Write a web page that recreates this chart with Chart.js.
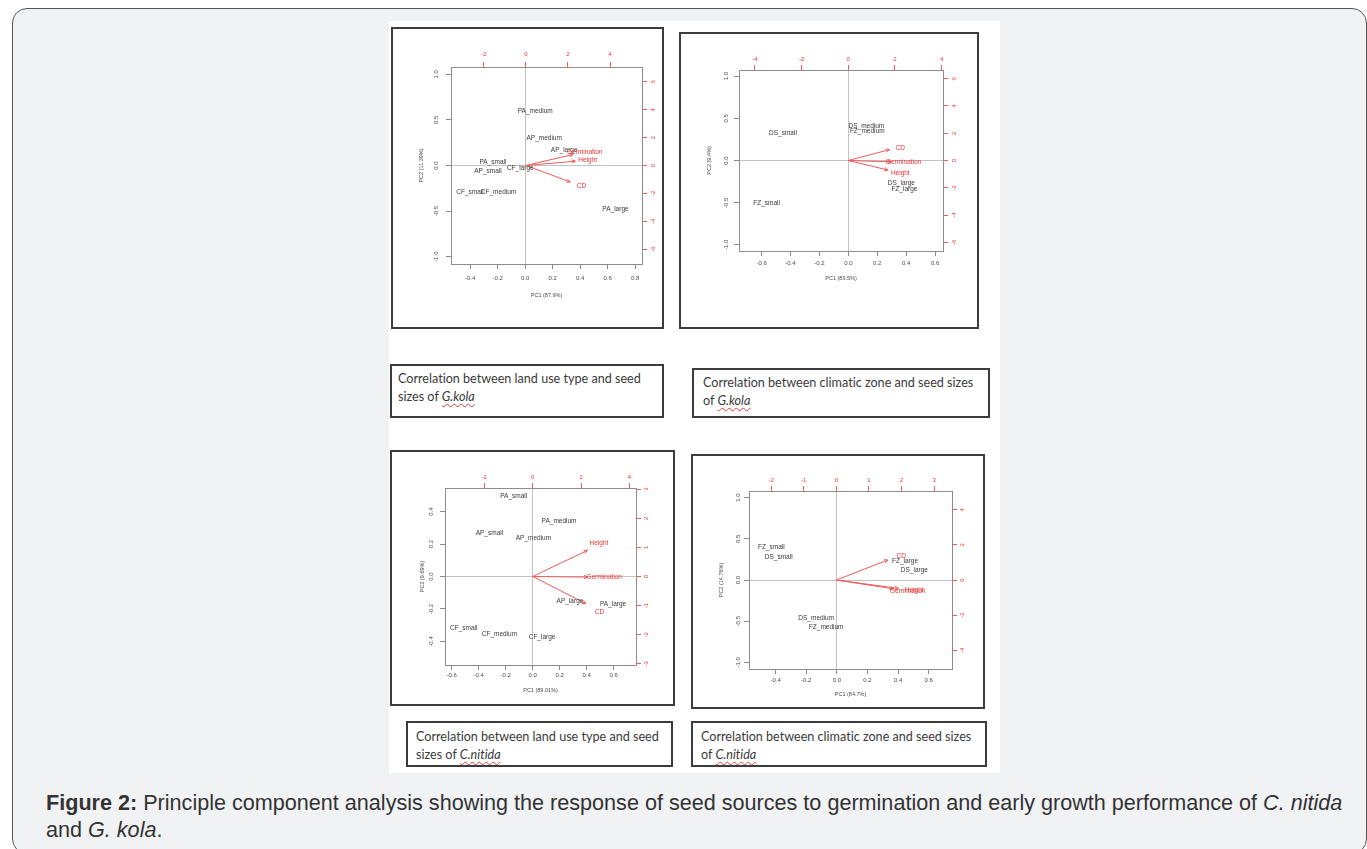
<!DOCTYPE html>
<html>
<head>
<meta charset="utf-8">
<title>Figure 2 - PCA biplots</title>
<script src="https://cdn.jsdelivr.net/npm/chart.js@4.4.1/dist/chart.umd.min.js"></script>
<style>
  html, body { margin: 0; padding: 0; background: #fff; }
  body { width: 1367px; height: 849px; position: relative; overflow: hidden; }
  .frame { position: absolute; left: 12px; top: 8px; width: 1355px; height: 846px; box-sizing: border-box;
           border: 1px solid #555; border-radius: 15px; background: #f1f2f4; }
  .sheet { position: absolute; left: 389px; top: 21px; width: 611px; height: 752px; background: #fff; }
  .panel { position: absolute; }
  .panel canvas { position: absolute; left: 0; top: 0; filter: blur(0.35px); }
  .panel::after { content: ''; position: absolute; inset: 0; border: 2px solid #3c3c3c; pointer-events: none; }
  .note { position: absolute; box-sizing: border-box; border: 2px solid #3c3c3c; background: #fff;
          font: 12.6px/18px Lato, 'Open Sans', sans-serif; color: #3a3a3a; white-space: nowrap;
          font-variant-ligatures: none; }
  .note i { text-decoration: underline wavy #e03a3a; text-decoration-thickness: 1px; text-underline-offset: 2px; }
  .figcap { position: absolute; left: 46px; top: 789px; width: 1310px; margin: 0;
            font: 21.6px/27px 'Liberation Sans', Arial, sans-serif; color: #333; }
</style>
</head>
<body>
<div class="frame"></div>
<div class="sheet"></div>

<div class="panel" style="left:391px;top:27px;width:273px;height:302px"><canvas id="c1" width="273" height="302"></canvas></div>
<div class="panel" style="left:679px;top:32px;width:300px;height:297px"><canvas id="c2" width="300" height="297"></canvas></div>
<div class="panel" style="left:390px;top:450px;width:285px;height:256px"><canvas id="c3" width="285" height="256"></canvas></div>
<div class="panel" style="left:691px;top:454px;width:294px;height:255px"><canvas id="c4" width="294" height="255"></canvas></div>

<div class="note" style="left:390px;top:364px;width:274px;height:54px;padding:4px 6px">Correlation between land use type and seed<br>sizes of <i>G.kola</i></div>
<div class="note" style="left:692px;top:368px;width:298px;height:50px;padding:4px 9px">Correlation between climatic zone and seed sizes<br>of <i>G.kola</i></div>
<div class="note" style="left:406px;top:721px;width:267px;height:46px;padding:5px 8px">Correlation between land use type and seed<br>sizes of <i>C.nitida</i></div>
<div class="note" style="left:691px;top:721px;width:296px;height:46px;padding:5px 8px">Correlation between climatic zone and seed sizes<br>of <i>C.nitida</i></div>

<p class="figcap"><b>Figure 2:</b> Principle component analysis showing the response of seed sources to germination and early growth performance of <i>C. nitida</i> and <i>G. kola</i>.</p>

<script>
// variables shown as arrows (same order in every panel)
const traitNames = ['Germination', 'Height', 'CD'];

// G. kola, land use type
const kolaLandNames = ['PA_medium', 'AP_medium', 'AP_large', 'PA_small', 'AP_small', 'CF_large', 'CF_small', 'CF_medium', 'PA_large'];
const kolaLandPC1 = [0.073, 0.138, 0.284, -0.235, -0.271, -0.036, -0.402, -0.194, 0.657];
const kolaLandPC2 = [0.600, 0.300, 0.164, 0.040, -0.062, -0.026, -0.290, -0.290, -0.480];
const kolaLandTipX = [2.24, 2.35, 2.11];
const kolaLandTipY = [0.79, 0.31, -1.18];
const kolaLandTextX = [2.80, 2.94, 2.64];
const kolaLandTextY = [0.99, 0.39, -1.48];
const kolaLandXTicks = [-0.4, -0.2, 0, 0.2, 0.4, 0.6, 0.8];
const kolaLandYTicks = [-1, -0.5, 0, 0.5, 1];
const kolaLandTopTicks = [-2, 0, 2, 4];
const kolaLandRightTicks = [-6, -4, -2, 0, 2, 4, 6];

// G. kola, climatic zone
const kolaZoneNames = ['DS_medium', 'FZ_medium', 'DS_small', 'DS_large', 'FZ_large', 'FZ_small'];
const kolaZonePC1 = [0.125, 0.131, -0.452, 0.367, 0.388, -0.565];
const kolaZonePC2 = [0.410, 0.344, 0.320, -0.270, -0.340, -0.510];
const kolaZoneTipX = [1.85, 1.70, 1.77];
const kolaZoneTipY = [-0.10, -0.70, 0.80];
const kolaZoneTextX = [2.37, 2.23, 2.23];
const kolaZoneTextY = [-0.15, -0.92, 0.91];
const kolaZoneXTicks = [-0.6, -0.4, -0.2, 0, 0.2, 0.4, 0.6];
const kolaZoneYTicks = [-1, -0.5, 0, 0.5, 1];
const kolaZoneTopTicks = [-4, -2, 0, 2, 4];
const kolaZoneRightTicks = [-6, -4, -2, 0, 2, 4, 6];

// C. nitida, land use type
const nitidaLandNames = ['PA_small', 'PA_medium', 'AP_small', 'AP_medium', 'AP_large', 'PA_large', 'CF_small', 'CF_medium', 'CF_large'];
const nitidaLandPC1 = [-0.141, 0.195, -0.321, 0.005, 0.276, 0.595, -0.511, -0.247, 0.069];
const nitidaLandPC2 = [0.494, 0.343, 0.265, 0.234, -0.150, -0.170, -0.316, -0.355, -0.371];
const nitidaLandTipX = [2.27, 2.27, 2.20];
const nitidaLandTipY = [-0.02, 0.90, -0.93];
const nitidaLandTextX = [2.96, 2.74, 2.76];
const nitidaLandTextY = [-0.04, 1.13, -1.21];
const nitidaLandXTicks = [-0.6, -0.4, -0.2, 0, 0.2, 0.4, 0.6];
const nitidaLandYTicks = [-0.4, -0.2, 0, 0.2, 0.4];
const nitidaLandTopTicks = [-2, 0, 2, 4];
const nitidaLandRightTicks = [-3, -2, -1, 0, 1, 2, 3];

// C. nitida, climatic zone
const nitidaZoneNames = ['FZ_small', 'DS_small', 'FZ_large', 'DS_large', 'DS_medium', 'FZ_medium'];
const nitidaZonePC1 = [-0.428, -0.380, 0.445, 0.506, -0.135, -0.070];
const nitidaZonePC2 = [0.394, 0.272, 0.227, 0.122, -0.468, -0.570];
const nitidaZoneTipX = [1.75, 1.91, 1.58];
const nitidaZoneTipY = [-0.50, -0.48, 1.14];
const nitidaZoneTextX = [2.19, 2.39, 1.99];
const nitidaZoneTextY = [-0.63, -0.59, 1.37];
const nitidaZoneXTicks = [-0.4, -0.2, 0, 0.2, 0.4, 0.6];
const nitidaZoneYTicks = [-1, -0.5, 0, 0.5, 1];
const nitidaZoneTopTicks = [-2, -1, 0, 1, 2, 3];
const nitidaZoneRightTicks = [-4, -2, 0, 2, 4];

const FONT = "'Liberation Sans', Arial, sans-serif";
const RED = '#f25a5a';
const RED_TEXT = '#ee3333';
const INK = '#383838';
const TICK_INK = '#4a4a4a';
const FRAME = '#8c8c8c';
const ZERO = '#c2c2c2';

// draws sample / variable names and arrow heads on top of the datasets
const tagPlugin = {
  id: 'tags',
  afterDatasetsDraw(chart) {
    const ctx = chart.ctx;
    ctx.save();
    chart.data.datasets.forEach((ds, i) => {
      const pts = chart.getDatasetMeta(i).data;
      if (ds.arrow) {
        const a = pts[0], b = pts[1];
        const ang = Math.atan2(b.y - a.y, b.x - a.x);
        const len = 4, spread = Math.PI / 7;
        ctx.strokeStyle = ds.borderColor;
        ctx.lineWidth = 1;
        ctx.beginPath();
        ctx.moveTo(b.x - len * Math.cos(ang - spread), b.y - len * Math.sin(ang - spread));
        ctx.lineTo(b.x, b.y);
        ctx.lineTo(b.x - len * Math.cos(ang + spread), b.y - len * Math.sin(ang + spread));
        ctx.stroke();
      }
      if (ds.tags) {
        ctx.font = '6.5px ' + FONT;
        ctx.fillStyle = ds.tagColor;
        ctx.textAlign = 'center';
        ctx.textBaseline = 'middle';
        pts.forEach((p, j) => ctx.fillText(ds.tags[j], p.x, p.y));
      }
    });
    ctx.restore();
  }
};

const fmt1 = v => v.toFixed(1);
const fmt0 = v => String(v);

function axis(pos, range, ticks, fmt, size, pad, red, title, titlePad) {
  const horiz = pos === 'top' || pos === 'bottom';
  return {
    type: 'linear',
    position: pos,
    min: range[0],
    max: range[1],
    afterBuildTicks: s => { s.ticks = ticks.map(v => ({ value: v })); },
    afterFit: s => { if (horiz) s.height = size; else s.width = size; },
    grid: {
      drawOnChartArea: !red,
      color: c => (c.tick && c.tick.value === 0) ? ZERO : 'rgba(0,0,0,0)',
      tickColor: red ? RED : '#8a8a8a',
      tickLength: 5,
      lineWidth: 1
    },
    border: { display: true, color: FRAME, width: 1 },
    ticks: {
      autoSkip: false,
      padding: pad,
      color: red ? RED_TEXT : TICK_INK,
      font: { family: FONT, size: 6 },
      minRotation: horiz ? 0 : 90,
      maxRotation: horiz ? 0 : 90,
      crossAlign: horiz ? 'near' : 'center',
      callback: fmt
    },
    title: title ? {
      display: true,
      text: title,
      color: TICK_INK,
      font: { family: FONT, size: 5.5 },
      padding: horiz ? { top: 0, bottom: titlePad } : { top: titlePad, bottom: 0 }
    } : { display: false }
  };
}

function biplot(p) {
  const datasets = [{
    data: p.names.map((n, i) => ({ x: p.pc1[i], y: p.pc2[i] })),
    tags: p.names,
    tagColor: INK,
    xAxisID: 'x', yAxisID: 'y'
  }];
  traitNames.forEach((t, i) => {
    datasets.push({
      data: [{ x: 0, y: 0 }, { x: p.tipX[i], y: p.tipY[i] }],
      showLine: true,
      arrow: true,
      borderColor: RED,
      borderWidth: 1,
      xAxisID: 'x2', yAxisID: 'y2'
    });
  });
  datasets.push({
    data: traitNames.map((t, i) => ({ x: p.textX[i], y: p.textY[i] })),
    tags: traitNames,
    tagColor: RED_TEXT,
    xAxisID: 'x2', yAxisID: 'y2'
  });

  return new Chart(document.getElementById(p.id), {
    type: 'scatter',
    data: { datasets },
    plugins: [tagPlugin],
    options: {
      responsive: false,
      animation: false,
      events: [],
      layout: { padding: 0 },
      elements: { point: { radius: 0, hoverRadius: 0 } },
      plugins: { legend: { display: false }, tooltip: { enabled: false } },
      scales: {
        x: axis('bottom', p.xr, p.xTicks, fmt1, p.box.b, p.pad.b, false, p.xTitle, p.titlePad.x),
        y: axis('left', p.yr, p.yTicks, fmt1, p.box.l, p.pad.l, false, p.yTitle, p.titlePad.y),
        x2: axis('top', p.x2r, p.topTicks, fmt0, p.box.t, p.pad.t, true),
        y2: axis('right', p.y2r, p.rightTicks, fmt0, p.box.r, p.pad.r, true)
      }
    }
  });
}

biplot({
  id: 'c1', names: kolaLandNames, pc1: kolaLandPC1, pc2: kolaLandPC2,
  tipX: kolaLandTipX, tipY: kolaLandTipY, textX: kolaLandTextX, textY: kolaLandTextY,
  xTicks: kolaLandXTicks, yTicks: kolaLandYTicks, topTicks: kolaLandTopTicks, rightTicks: kolaLandRightTicks,
  xTitle: 'PC1 (87.9%)', yTitle: 'PC2 (11.39%)',
  xr: [-0.54, 0.85], yr: [-1.08, 1.08], x2r: [-3.56, 5.52], y2r: [-7.07, 7.07],
  box: { l: 60, t: 40, r: 22, b: 65 }, pad: { b: 5.4, t: 4.1, l: 4.1, r: 3.6 }, titlePad: { x: 30.7, y: 27.4 }
});

biplot({
  id: 'c2', names: kolaZoneNames, pc1: kolaZonePC1, pc2: kolaZonePC2,
  tipX: kolaZoneTipX, tipY: kolaZoneTipY, textX: kolaZoneTextX, textY: kolaZoneTextY,
  xTicks: kolaZoneXTicks, yTicks: kolaZoneYTicks, topTicks: kolaZoneTopTicks, rightTicks: kolaZoneRightTicks,
  xTitle: 'PC1 (89.5%)', yTitle: 'PC2 (9.4%)',
  xr: [-0.756, 0.655], yr: [-1.072, 1.072], x2r: [-4.68, 4.06], y2r: [-6.64, 6.64],
  box: { l: 60, t: 38, r: 36, b: 78 }, pad: { b: 4, t: 2.1, l: 2.5, r: 3.9 }, titlePad: { x: 47.7, y: 27 }
});

biplot({
  id: 'c3', names: nitidaLandNames, pc1: nitidaLandPC1, pc2: nitidaLandPC2,
  tipX: nitidaLandTipX, tipY: nitidaLandTipY, textX: nitidaLandTextX, textY: nitidaLandTextY,
  xTicks: nitidaLandXTicks, yTicks: nitidaLandYTicks, topTicks: nitidaLandTopTicks, rightTicks: nitidaLandRightTicks,
  xTitle: 'PC1 (89.01%)', yTitle: 'PC2 (9.69%)',
  xr: [-0.65, 0.765], yr: [-0.545, 0.545], x2r: [-3.62, 4.27], y2r: [-3.04, 3.04],
  box: { l: 55, t: 38, r: 39, b: 41 }, pad: { b: 1.8, t: 2.1, l: 3.8, r: 2.3 }, titlePad: { x: 12.7, y: 28.7 }
});

biplot({
  id: 'c4', names: nitidaZoneNames, pc1: nitidaZonePC1, pc2: nitidaZonePC2,
  tipX: nitidaZoneTipX, tipY: nitidaZoneTipY, textX: nitidaZoneTextX, textY: nitidaZoneTextY,
  xTicks: nitidaZoneXTicks, yTicks: nitidaZoneYTicks, topTicks: nitidaZoneTopTicks, rightTicks: nitidaZoneRightTicks,
  xTitle: 'PC1 (84.7%)', yTitle: 'PC2 (14.76%)',
  xr: [-0.574, 0.752], yr: [-1.08, 1.08], x2r: [-2.68, 3.55], y2r: [-5.07, 5.07],
  box: { l: 58, t: 37, r: 33, b: 40 }, pad: { b: 2.4, t: 2.4, l: 0, r: 3 }, titlePad: { x: 11, y: 27 }
});
</script>
</body>
</html>
